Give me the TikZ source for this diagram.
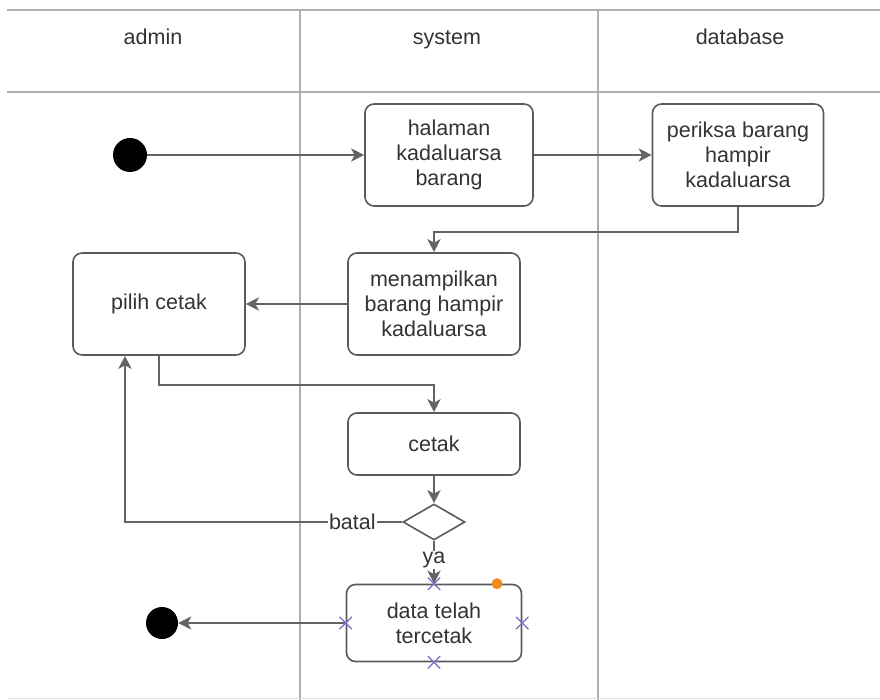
\documentclass[tikz,border=0pt]{standalone}
\usepackage{fontspec}
\setmainfont{Liberation Sans}
\usetikzlibrary{positioning,shapes.geometric,shapes.misc,arrows.meta}
\definecolor{linegray}{RGB}{100,100,100}
\definecolor{boxgray}{RGB}{90,90,90}
\definecolor{lanegray}{RGB}{175,175,175}
\definecolor{markblue}{RGB}{115,110,200}
\definecolor{dotorange}{RGB}{240,140,30}
\begin{document}
\begin{tikzpicture}[x=1pt,y=-1pt,
  font=\fontsize{21.5}{25}\selectfont,
  every node/.style={text=black!80},
  lane/.style={draw=lanegray,line width=1.2pt},
  header/.style={draw=lanegray,line width=2.4pt},
  lanelabel/.style={anchor=base},
  activity/.style={draw=boxgray,line width=1.6pt,rounded corners=9pt,align=center,inner sep=0pt},
  decision/.style={diamond,draw=boxgray,line width=1.6pt,minimum width=62pt,minimum height=36pt,inner sep=0pt},
  initnode/.style={circle,fill=black,minimum size=34pt,inner sep=0pt},
  finalnode/.style={circle,fill=black,minimum size=32pt,inner sep=0pt},
  flow/.style={draw=linegray,line width=2.4pt,-{Stealth[length=13pt,width=13pt,inset=3.5pt]}},
  guard/.style={fill=white,inner sep=1pt},
  crossmark/.style={cross out,draw=markblue,line width=1.3pt,minimum size=11pt,inner sep=0pt},
  dotmark/.style={circle,fill=dotorange,minimum size=11pt,inner sep=0pt}]
  \useasboundingbox (0,0) rectangle (880,700);
  % swimlanes
  \draw[header] (7,10) -- (880,10);
  \draw[header] (7,92) -- (880,92);
  \draw[lane] (300,10) -- (300,700);
  \draw[lane] (598,10) -- (598,700);
  \draw[draw=lanegray!40,line width=1pt] (7,698) -- (880,698);
  \node[lanelabel] (admin) at (153,45) {admin};
  \node[lanelabel] (system) at (447,45) {system};
  \node[lanelabel] (database) at (740,45) {database};
  % activities
  \node[initnode] (start) at (130,155) {};
  \node[activity,minimum width=168pt,minimum height=102pt] (hal) at (449,155) {halaman\\kadaluarsa\\barang};
  \node[activity,minimum width=171pt,minimum height=102pt] (per) at (738,155) {periksa barang\\hampir\\kadaluarsa};
  \node[activity,minimum width=172pt,minimum height=102pt] (tamp) at (434,304) {menampilkan\\barang hampir\\kadaluarsa};
  \node[activity,minimum width=172pt,minimum height=102pt] (pilih) at (159,304) {pilih cetak};
  \node[activity,minimum width=172pt,minimum height=62pt] (cetak) at (434,444) {cetak};
  \node[decision] (dec) at (434,522) {};
  \node[activity,minimum width=175pt,minimum height=77pt] (data) at (434,623) {data telah\\tercetak};
  \node[finalnode] (final) at (162,623) {};
  % flows
  \draw[flow] (start) -- (hal);
  \draw[flow] (hal) -- (per);
  \draw[flow] (per.south) -- ++(0,25) -| (tamp.north);
  \draw[flow] (tamp) -- (pilih);
  \draw[flow] (pilih.south) -- ++(0,29) -| (cetak.north);
  \draw[flow] (cetak) -- (dec);
  \draw[flow] (dec.west) -| node[guard,pos=0.09] {batal} ([xshift=-34pt]pilih.south);
  \draw[flow] (dec.south) -- node[guard,pos=0.45] {ya} (data.north);
  \draw[flow] (data.west) -- (final);
  % selection handles
  \node[crossmark] (mn) at (data.north) {};
  \node[crossmark] (mw) at (data.west) {};
  \node[crossmark] (me) at (data.east) {};
  \node[crossmark] (ms) at (data.south) {};
  \node[dotmark] (md) at ([xshift=63pt]data.north) {};
\end{tikzpicture}
\end{document}
